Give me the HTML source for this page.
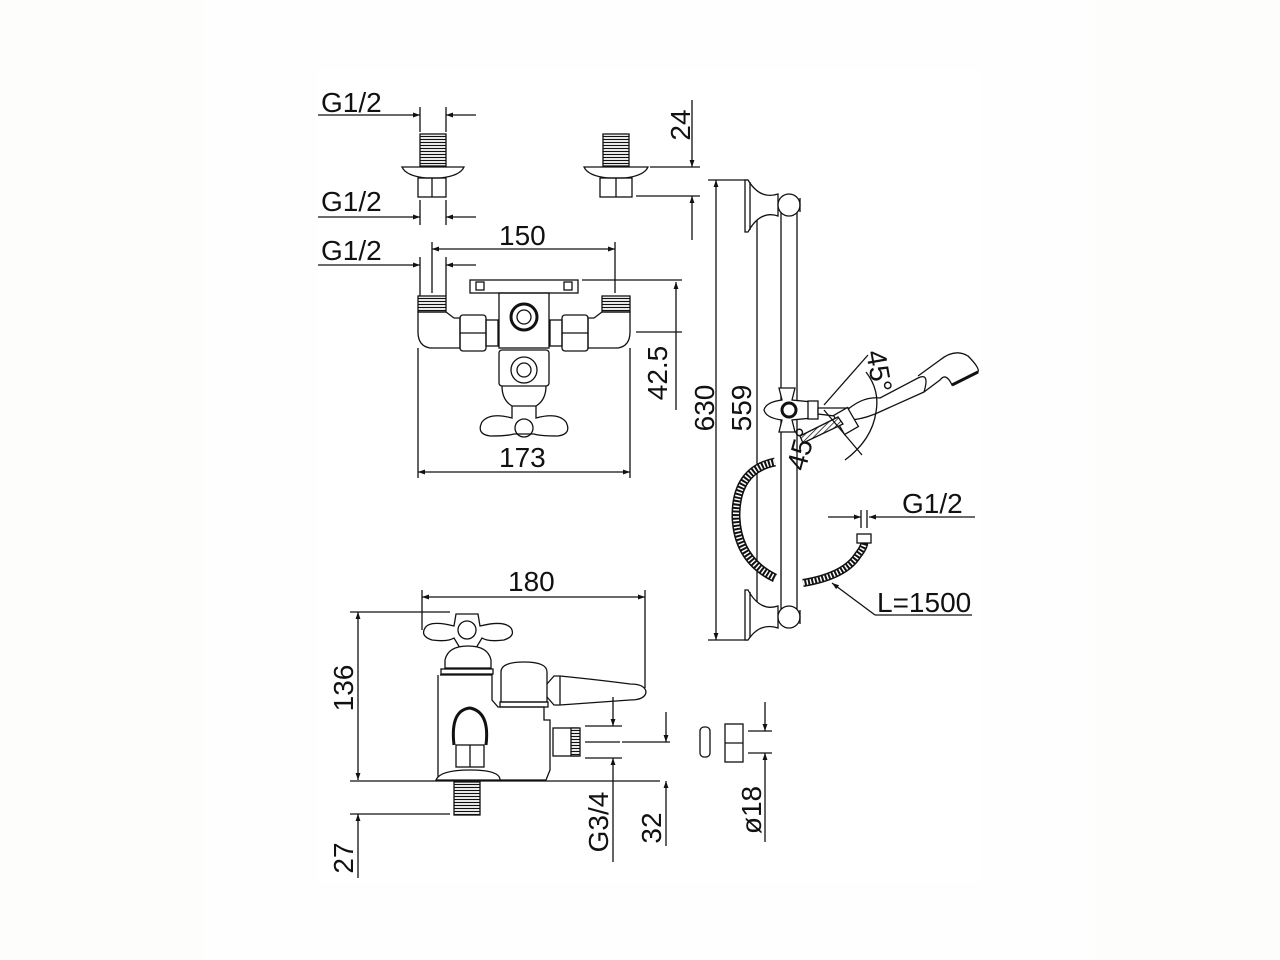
<!DOCTYPE html>
<html><head><meta charset="utf-8"><style>
html,body{margin:0;padding:0;background:#fff;width:1280px;height:960px;overflow:hidden}
svg{display:block}
text{font-family:"Liberation Sans",sans-serif;font-size:28px;fill:#111}
</style></head><body>
<svg width="1280" height="960" viewBox="0 0 1280 960" xmlns="http://www.w3.org/2000/svg">
<defs>
<marker id="a" viewBox="0 0 10 10" refX="10" refY="5" markerWidth="12" markerHeight="7" orient="auto-start-reverse" markerUnits="userSpaceOnUse"><path d="M0,1.5 L10,5 L0,8.5 z" fill="#111"/></marker>
<pattern id="th" width="4" height="3" patternUnits="userSpaceOnUse"><rect width="4" height="3" fill="#fff"/><line x1="0" y1="1.5" x2="4" y2="1.5" stroke="#111" stroke-width="1.2"/></pattern>
<pattern id="hs" width="4" height="4" patternUnits="userSpaceOnUse" patternTransform="rotate(45)"><rect width="4" height="4" fill="#fff"/><line x1="0" y1="0" x2="0" y2="4" stroke="#111" stroke-width="1.5"/></pattern>
</defs>
<rect x="0" y="0" width="1280" height="960" fill="#fdfdfc"/>
<rect x="202" y="0" width="893" height="960" fill="#fefefe"/>
<rect x="318" y="70" width="662" height="812" fill="#fff"/>
<g stroke="#111" stroke-width="1.3" fill="none">
<line x1="318" y1="115" x2="420" y2="115" marker-end="url(#a)"/><line x1="476" y1="115" x2="446" y2="115" marker-end="url(#a)"/>
<line x1="420" y1="107" x2="420" y2="132"/><line x1="446" y1="107" x2="446" y2="132"/>
<line x1="318" y1="217" x2="420" y2="217" marker-end="url(#a)"/><line x1="476" y1="217" x2="446" y2="217" marker-end="url(#a)"/>
<line x1="420" y1="200" x2="420" y2="225"/><line x1="446" y1="200" x2="446" y2="225"/>
<line x1="318" y1="265" x2="420" y2="265" marker-end="url(#a)"/><line x1="476" y1="265" x2="446" y2="265" marker-end="url(#a)"/>
<line x1="420" y1="257" x2="420" y2="296"/><line x1="446" y1="257" x2="446" y2="296"/>
<rect x="420" y="134" width="26" height="32" fill="url(#th)"/>
<path d="M402,167 L464,167 Q460,176 440,178 L426,178 Q406,176 402,167 Z" fill="#fff"/>
<rect x="418" y="178" width="28" height="19"/><line x1="432" y1="178" x2="432" y2="197"/>
<rect x="603" y="134" width="26" height="32" fill="url(#th)"/>
<path d="M584,167 L648,167 Q644,176 624,178 L608,178 Q588,176 584,167 Z" fill="#fff"/>
<rect x="600" y="178" width="32" height="19"/><line x1="616" y1="178" x2="616" y2="197"/>
<line x1="650" y1="167" x2="700" y2="167"/><line x1="636" y1="196" x2="700" y2="196"/>
<line x1="692" y1="100" x2="692" y2="167" marker-end="url(#a)"/><line x1="692" y1="240" x2="692" y2="196" marker-end="url(#a)"/>
<line x1="432" y1="249" x2="615" y2="249" marker-start="url(#a)" marker-end="url(#a)"/>
<line x1="432" y1="242" x2="432" y2="293"/><line x1="615" y1="242" x2="615" y2="293"/>
<rect x="470" y="280" width="108" height="13"/>
<rect x="476" y="282" width="8" height="8"/><rect x="564" y="282" width="8" height="8"/>
<rect x="418" y="296" width="28" height="16" fill="url(#th)"/><rect x="602" y="296" width="28" height="16" fill="url(#th)"/>
<path d="M418,312 L446,312 L454,318 L460,318 L460,348 L430,348 Q418,346 418,332 Z"/>
<path d="M630,312 L602,312 L594,318 L588,318 L588,348 L618,348 Q630,346 630,332 Z"/>
<rect x="460" y="315" width="26" height="36" rx="3"/><line x1="460" y1="333" x2="486" y2="333"/>
<rect x="562" y="315" width="26" height="36" rx="3"/><line x1="562" y1="333" x2="588" y2="333"/>
<rect x="486" y="320" width="12" height="26"/><rect x="550" y="320" width="12" height="26"/>
<rect x="499" y="293" width="50" height="55"/>
<circle cx="524" cy="317" r="13" stroke-width="3"/><circle cx="524" cy="317" r="7"/>
<rect x="499" y="350" width="50" height="36" rx="3"/>
<circle cx="524" cy="370" r="13"/><circle cx="524" cy="370" r="7"/>
<path d="M502,386 Q502,400 512,406 L536,406 Q546,400 546,386"/>
<path d="M512,406 L512,418 Q490,412 482,422 Q476,434 490,436 Q508,436 514,434 L534,434 Q540,436 558,436 Q572,434 566,422 Q558,412 536,418 L536,406"/>
<circle cx="524" cy="428" r="9"/>
<line x1="418" y1="348" x2="418" y2="478"/><line x1="630" y1="348" x2="630" y2="478"/>
<line x1="418" y1="472" x2="630" y2="472" marker-start="url(#a)" marker-end="url(#a)"/>
<line x1="582" y1="280" x2="682" y2="280"/><line x1="636" y1="332" x2="682" y2="332"/>
<line x1="676" y1="332" x2="676" y2="282" marker-end="url(#a)"/><line x1="676" y1="332" x2="676" y2="410"/>
<line x1="708" y1="180" x2="748" y2="180"/><line x1="708" y1="640" x2="748" y2="640"/>
<line x1="716" y1="180" x2="716" y2="640" marker-start="url(#a)" marker-end="url(#a)"/>
<line x1="750" y1="205" x2="770" y2="205"/><line x1="750" y1="617" x2="770" y2="617"/>
<line x1="757" y1="205" x2="757" y2="617" marker-start="url(#a)" marker-end="url(#a)"/>
<rect x="781" y="210" width="16" height="400" fill="#fff"/>
<path d="M745,180 L748,180 Q760,200 778,194 L778,216 Q760,210 748,232 L745,232 Z" fill="#fff"/>
<line x1="750" y1="182" x2="750" y2="230"/>
<circle cx="789" cy="205" r="11" fill="#fff"/><line x1="800" y1="198" x2="800" y2="212"/>
<path d="M745,590 L748,590 Q760,612 778,606 L778,628 Q760,622 748,640 L745,640 Z" fill="#fff"/>
<line x1="750" y1="592" x2="750" y2="638"/>
<circle cx="789" cy="617" r="11" fill="#fff"/><line x1="800" y1="610" x2="800" y2="624"/>
<path d="M779,388 L795,388 L792,400 L812,402 L812,418 L792,420 L795,432 L779,432 L782,420 Q766,418 764,410 Q766,402 782,400 Z" fill="#fff"/>
<circle cx="789" cy="410" r="7" stroke-width="3"/>
<rect x="808" y="401" width="10" height="18" fill="#fff"/>
<path d="M818,408 L855,408 L852,418 L818,414 Z" fill="#fff"/>
<path d="M845,412 Q862,396 880,398 L918,378 Q930,372 924,392 L875,414 Q860,420 848,420 Z" fill="#fff"/>
<path d="M918,376 L940,360 Q955,348 968,356 Q980,368 978,372 L952,385 Q946,372 940,380 L924,392"/>
<path d="M952,385 L978,372" stroke-width="3"/>
<rect x="838" y="410" width="16" height="22" transform="rotate(-30 846 421)" fill="#fff"/>
<path d="M800,436 L838,417 L843,424 L803,443 Z" fill="url(#hs)"/>
<line x1="824" y1="405" x2="868" y2="355"/><line x1="824" y1="410" x2="862" y2="455"/>
<path d="M866,372 Q880,390 876,412"/><path d="M876,412 Q872,440 845,460"/>
<path d="M775,462 Q735,470 736,518 Q738,560 775,578" stroke="#111" stroke-width="9"/>
<path d="M775,462 Q735,470 736,518 Q738,560 775,578" stroke="#fff" stroke-width="6" stroke-dasharray="1.5 2"/>
<path d="M803,583 Q845,576 858,555 Q866,545 864,540" stroke="#111" stroke-width="8"/>
<path d="M803,583 Q845,576 858,555 Q866,545 864,540" stroke="#fff" stroke-width="5" stroke-dasharray="1.5 2"/>
<rect x="857" y="534" width="14" height="9" fill="#fff"/>
<line x1="828" y1="517" x2="861" y2="517" marker-end="url(#a)"/><line x1="975" y1="517" x2="869" y2="517" marker-end="url(#a)"/>
<line x1="861" y1="510" x2="861" y2="528"/><line x1="867" y1="510" x2="867" y2="528"/>
<line x1="875" y1="615" x2="972" y2="615"/><line x1="875" y1="615" x2="832" y2="583" marker-end="url(#a)"/>
<!-- side view dims -->
<line x1="422" y1="597" x2="645" y2="597" marker-start="url(#a)" marker-end="url(#a)"/>
<line x1="422" y1="590" x2="422" y2="630"/><line x1="645" y1="590" x2="645" y2="688"/>
<line x1="350" y1="612" x2="450" y2="612"/>
<line x1="358" y1="612" x2="358" y2="780" marker-start="url(#a)" marker-end="url(#a)"/>
<line x1="350" y1="781" x2="660" y2="781"/><line x1="350" y1="814" x2="450" y2="814"/>
<line x1="358" y1="878" x2="358" y2="814" marker-end="url(#a)"/>
<!-- side body -->
<path d="M425,628 Q420,636 432,640 Q448,642 454,638 L460,648 L476,648 L482,638 Q488,642 504,640 Q516,636 511,628 Q504,620 480,626 L478,614 L456,614 L454,626 Q430,620 425,628 Z" fill="#fff"/>
<circle cx="467" cy="630" r="9" fill="#fff"/>
<path d="M445,668 L445,660 Q448,646 468,646 Q488,646 491,660 L491,668 Z" fill="#fff"/>
<rect x="441" y="669" width="52" height="5"/>
<path d="M440,675 L492,675 L492,700 L498,707 L544,707 L544,720 L550,720 L550,770 L546,780 L438,780 L438,675"/>
<path d="M501,702 L501,672 Q501,662 524,662 Q547,662 547,672 L547,702 Z" fill="#fff"/>
<rect x="500" y="702" width="48" height="5"/>
<path d="M547,684 L554,676 L560,676 Q600,680 630,684 Q645,684 646,692 Q645,700 630,700 Q600,702 560,705 L554,705 L547,697"/>
<line x1="560" y1="676" x2="560" y2="705"/>
<path d="M454,745 Q450,710 470,708 Q490,712 486,745" stroke-width="3"/>
<rect x="456" y="745" width="28" height="22"/><line x1="470" y1="745" x2="470" y2="767"/>
<path d="M436,780 Q440,770 470,770 Q500,770 500,780 Z" fill="#fff"/>
<rect x="454" y="782" width="26" height="33" fill="url(#th)"/>
<rect x="553" y="728" width="25" height="28" fill="#fff"/><rect x="571" y="728" width="9" height="28" fill="url(#th)"/>
<line x1="585" y1="726" x2="622" y2="726"/><line x1="585" y1="742" x2="620" y2="742"/><line x1="585" y1="758" x2="622" y2="758"/>
<line x1="613" y1="697" x2="613" y2="726" marker-end="url(#a)"/><line x1="613" y1="862" x2="613" y2="758" marker-end="url(#a)"/>
<line x1="622" y1="742" x2="670" y2="742"/>
<line x1="666" y1="712" x2="666" y2="742" marker-end="url(#a)"/><line x1="666" y1="846" x2="666" y2="781" marker-end="url(#a)"/>
<rect x="700" y="727" width="10" height="30" rx="4"/>
<rect x="725" y="724" width="18" height="38"/><line x1="725" y1="743" x2="743" y2="743"/>
<line x1="748" y1="731" x2="772" y2="731"/><line x1="748" y1="753" x2="772" y2="753"/>
<line x1="765" y1="702" x2="765" y2="731" marker-end="url(#a)"/><line x1="765" y1="842" x2="765" y2="753" marker-end="url(#a)"/>
</g>
<g>
<text x="321" y="112">G1/2</text>
<text x="321" y="211">G1/2</text>
<text x="321" y="260">G1/2</text>
<text x="499" y="245">150</text>
<text x="499" y="467">173</text>
<text x="902" y="513">G1/2</text>
<text x="877" y="612">L=1500</text>
<text x="508" y="591">180</text>
<text transform="translate(690,125) rotate(-90)" text-anchor="middle">24</text>
<text transform="translate(667,373) rotate(-90)" text-anchor="middle">42.5</text>
<text transform="translate(714,408) rotate(-90)" text-anchor="middle">630</text>
<text transform="translate(751,408) rotate(-90)" text-anchor="middle">559</text>
<text transform="translate(353,688) rotate(-90)" text-anchor="middle">136</text>
<text transform="translate(353,858) rotate(-90)" text-anchor="middle">27</text>
<text transform="translate(608,822) rotate(-90)" text-anchor="middle">G3/4</text>
<text transform="translate(661,828) rotate(-90)" text-anchor="middle">32</text>
<text transform="translate(761,810) rotate(-90)" text-anchor="middle">ø18</text>
<text transform="translate(866,352) rotate(80)" font-size="22">45°</text>
<text transform="translate(805,472) rotate(-75)" font-size="22">45°</text>
</g>
</svg>
</body></html>
